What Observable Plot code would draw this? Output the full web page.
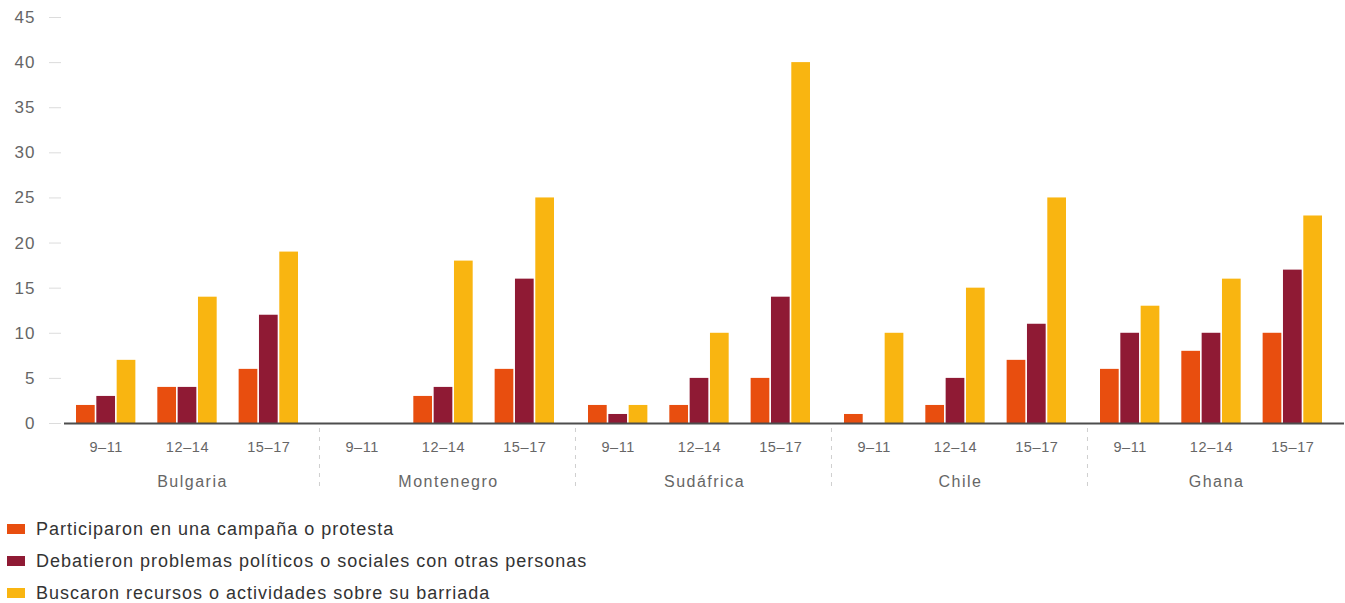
<!DOCTYPE html>
<html>
<head>
<meta charset="utf-8">
<script src="https://cdn.jsdelivr.net/npm/d3@7"></script>
<script src="https://cdn.jsdelivr.net/npm/@observablehq/plot@0.6"></script>
<style>
  html, body { margin: 0; padding: 0; background: #fff; }
  #chart svg { display: block; }
  #chart g[aria-label="y-axis tick label"] { letter-spacing: 1px; }
  #chart g[aria-label="x-axis tick label"] { letter-spacing: 0.6px; }
  #chart g[aria-label="fx-axis tick label"] { letter-spacing: 1.5px; }
  .legend { padding-top: 20px; font-family: "Liberation Sans", Arial, sans-serif; font-size: 18px; letter-spacing: 1px; color: #333; }
  .legend .item { display: flex; align-items: center; height: 32px; }
  .legend .sw { width: 18px; height: 10px; margin-left: 7px; margin-right: 11px; flex: none; }
</style>
</head>
<body>
<div id="chart"></div>
<script>
const countries = ["Bulgaria", "Montenegro", "Sudáfrica", "Chile", "Ghana"];
const ages = ["9–11", "12–14", "15–17"];
const series = [
  "Participaron en una campaña o protesta",
  "Debatieron problemas políticos o sociales con otras personas",
  "Buscaron recursos o actividades sobre su barriada"
];
const colors = ["#E84E0F", "#8F1A34", "#F9B511"];
// values ordered country by country, ages 9–11, 12–14, 15–17
const protesta = [2, 4, 6,   0, 3, 6,   2, 2, 5,   1, 2, 7,   6, 8, 10];
const debate   = [3, 4, 12,  0, 4, 16,  1, 5, 14,  0, 5, 11,  10, 10, 17];
const barriada = [7, 14, 19, 0, 18, 25, 2, 10, 40, 10, 15, 25, 13, 16, 23];
const yTicks = [0, 5, 10, 15, 20, 25, 30, 35, 40, 45];

const valuesBySeries = [protesta, debate, barriada];
const rows = [];
countries.forEach((c, ci) => {
  ages.forEach((a, ai) => {
    series.forEach((s, si) => {
      rows.push({country: c, age: a, series: s, key: a + "|" + si, value: valuesBySeries[si][ci * ages.length + ai]});
    });
  });
});

// band domain inside each country: three bars per age group, a spacer between groups
const xDomain = ages.flatMap((a, i) => [
  ...series.map((s, j) => a + "|" + j),
  ...(i < ages.length - 1 ? [a + "|gap"] : [])
]);
const ageTicks = ages.map(a => a + "|1");

const insetL = 12, insetR = 22, padIn = 0.08;
const facetW = (1345 - 62) / countries.length;
const step = (facetW - insetL - insetR) / (xDomain.length - padIn);
const bw = step * (1 - padIn);

const chart = Plot.plot({
  width: 1345,
  height: 493,
  marginTop: 17,
  marginBottom: 70,
  marginLeft: 62,
  marginRight: 0,
  style: {fontFamily: "'Liberation Sans', Arial, sans-serif", background: "white", overflow: "visible"},
  fx: {domain: countries, padding: 0, axis: null},
  x: {domain: xDomain, paddingInner: padIn, paddingOuter: 0, insetLeft: insetL, insetRight: insetR, round: false, axis: null},
  y: {domain: [0, 45], axis: null},
  color: {domain: series, range: colors},
  marks: [
    Plot.axisY({ticks: yTicks, tickSize: 12, tickPadding: 14, dx: -3, stroke: "#dcdcdc", fill: "#666", fontSize: 17, label: null}),
    Plot.barY(rows, {fx: "country", x: "key", y: "value", fill: "series"}),
    Plot.ruleY([0], {stroke: "#4d4d4d", strokeWidth: 2}),
    Plot.axisX({ticks: ageTicks, tickFormat: k => k.split("|")[0], tickSize: 0, tickPadding: 18, fontSize: 14.5, fill: "#666", label: null}),
    Plot.axisFx({anchor: "bottom", tickSize: 0, tickPadding: 52, fontSize: 16, fill: "#666", label: null}),
    Plot.ruleX(countries.slice(1), {fx: d => d, x: () => xDomain[0], dx: -(insetL + bw / 2) - 1, insetTop: 411, insetBottom: -63, stroke: "#cfcfcf", strokeDasharray: "4,5"})
  ]
});
document.getElementById("chart").appendChild(chart);

const legend = document.createElement("div");
legend.className = "legend";
series.forEach((s, i) => {
  const item = document.createElement("div");
  item.className = "item";
  const sw = document.createElement("span");
  sw.className = "sw";
  sw.style.background = colors[i];
  const tx = document.createElement("span");
  tx.textContent = s;
  item.appendChild(sw);
  item.appendChild(tx);
  legend.appendChild(item);
});
document.getElementById("chart").appendChild(legend);
</script>
</body>
</html>
